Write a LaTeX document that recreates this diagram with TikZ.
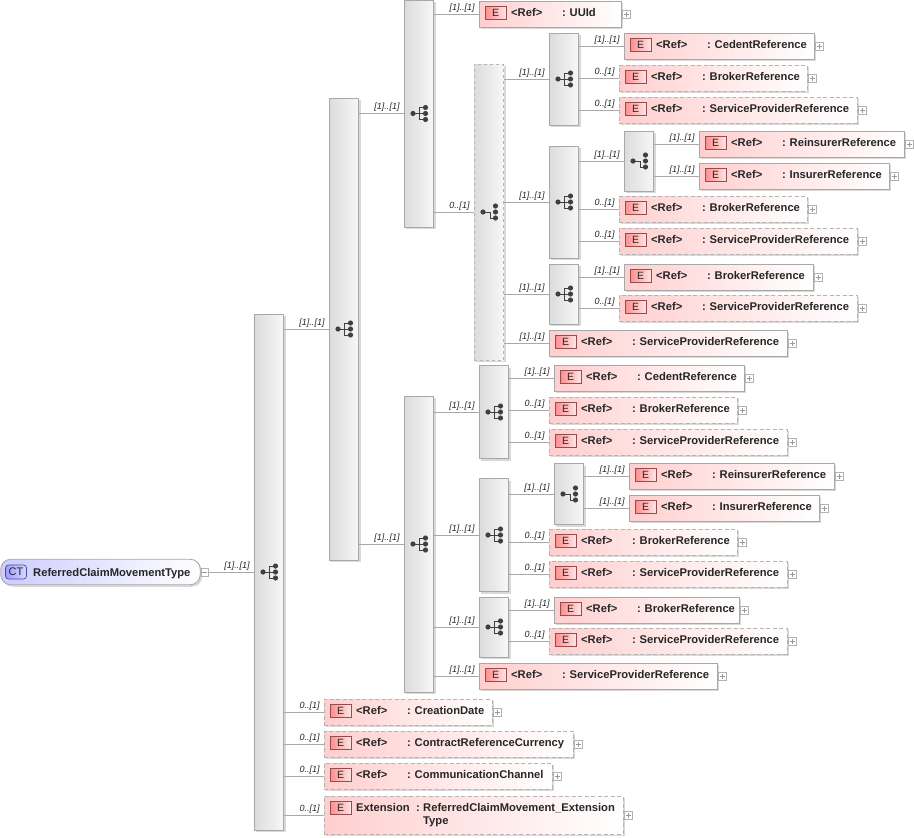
\documentclass[tikz,border=0pt]{standalone}
\usepackage{fontspec}
\setmainfont{Liberation Sans}
\usetikzlibrary{shadows}

\definecolor{boxline}{HTML}{A8A8A8}
\definecolor{dashline}{HTML}{B4B4B4}
\definecolor{conline}{HTML}{A8A8A8}
\definecolor{symdark}{HTML}{404040}

\tikzset{
  softshadow/.style={drop shadow={shadow xshift=2pt,shadow yshift=-2pt,fill=black,opacity=.15}},
  seqbox/.style={draw=boxline, line width=.8pt, minimum width=29.5pt, inner sep=0pt,
    left color=black!14, right color=black!3, softshadow},
  chobox/.style={seqbox, draw=dashline, dashed},
  refbox/.style={draw=boxline, line width=.8pt, anchor=north west, minimum height=25.5pt, inner sep=0pt,
    left color=red!19, right color=white, softshadow},
  refopt/.style={refbox, draw=dashline, dash pattern=on 4pt off 2.5pt},
  eicon/.style={draw=black!60!red!70, line width=.7pt, minimum width=21pt, minimum height=13pt, inner sep=0pt,
    left color=red!45, right color=red!10, text=black!85, font=\fontsize{10.5}{10}\selectfont},
  reftext/.style={anchor=base west, inner sep=0pt, text=black!85, font=\fontsize{11.2}{12}\selectfont\bfseries},
  plusbox/.style={draw=black!30, line width=.5pt, fill=white, minimum size=7.5pt, inner sep=0pt},
  plusline/.style={draw=black!40, line width=.5pt},
  conn/.style={draw=conline, line width=.7pt},
  multi/.style={anchor=south east, inner sep=0pt, xshift=-4pt, yshift=1.5pt, text=black!85,
    font=\fontsize{9}{9}\selectfont\itshape},
  seqsym/.pic={
    \draw[symdark, line width=.9pt] (-6,0) -- (6,0) (0,-6) -- (0,6) (0,-6) -- (6,-6) (0,6) -- (6,6);
    \foreach \py in {-6,0,6} \fill[symdark] (6.5,\py) circle (2.6pt);
    \fill[symdark] (-6,0) circle (2.6pt);
  },
  chosym/.pic={
    \draw[symdark, line width=.9pt] (-6,0) -- (1,0) -- (1,6) -- (6,6);
    \foreach \py in {-6,0,6} \fill[symdark] (6.5,\py) circle (2.6pt);
    \fill[symdark] (-6,0) circle (2.6pt);
  },
}

% offsets of colon and name inside an element box
\def\colonx{83}
\def\namex{90.5}

% element box with icon, texts and expand button
\newcommand{\refel}[6][<Ref>]{%
  \node[#5, minimum width=#4pt-.5pt] (#2) at (#3) {};
  \node[eicon, shift={(16.5,12)}] (#2e) at (#2.north west) {E};
  \node[reftext, shift={(32,15.5)}] (#2t) at (#2.north west) {#1};
  \node[reftext, shift={(\colonx,15.5)}] (#2c) at (#2.north west) {:};
  \node[reftext, shift={(\namex,15.5)}] (#2n) at (#2.north west) {#6};
  \node[plusbox, shift={(5,0)}] (#2p) at (#2.east) {};
  \draw[plusline] ([xshift=-2.5pt]#2p.center) -- ([xshift=2.5pt]#2p.center);
  \draw[plusline] ([yshift=-2.5pt]#2p.center) -- ([yshift=2.5pt]#2p.center);
}
% connector from a group to its child
\newcommand{\conn}[3]{\draw[conn] (#1.east |- #2.west) -- (#2.west) node[multi] {#3};}

\begin{document}
\begin{tikzpicture}[x=1pt,y=-1pt]
  \useasboundingbox (0,0) rectangle (914,838);

  % Root type
  \node[draw=black!35, line width=.8pt, rounded corners=10pt, minimum width=199.5pt, minimum height=25.5pt,
    inner sep=0pt, left color=blue!20, right color=white, softshadow] (root) at (100.5,572) {};
  \node[draw=black!60!blue!70, line width=.7pt, rounded corners=3pt, minimum width=21pt, minimum height=14pt,
    inner sep=0pt, left color=blue!38, right color=blue!15, font=\fontsize{11}{10}\selectfont, text=black!85] (rooti) at (16,572) {CT};
  \node[reftext] (roott) at (33,576) {ReferredClaimMovementType};
  \node[plusbox] (rootm) at (204.5,572) {};
  \draw[plusline] ([xshift=-2.5pt]rootm.center) -- ([xshift=2.5pt]rootm.center);

  % Group boxes
  \node[seqbox, minimum height=516pt] (main) at (269,572) {};
  \node[seqbox, minimum height=462pt] (outer) at (344,329) {};
  \node[seqbox, minimum height=227pt] (upper) at (419,113.5) {};
  \node[seqbox, minimum height=296pt] (lower) at (419,544) {};
  \node[chobox, minimum height=296pt] (upchoice) at (489,212) {};
  \node[seqbox, minimum height=92pt] (upa) at (564,79) {};
  \node[seqbox, minimum height=112pt] (upb) at (564,202) {};
  \node[chobox, draw=boxline, solid, minimum height=60pt] (upbb) at (639,161) {};
  \node[seqbox, minimum height=60pt] (upc) at (564,294) {};
  \node[seqbox, minimum height=93pt] (lowd) at (494,412) {};
  \node[seqbox, minimum height=113pt] (lowe) at (494,535) {};
  \node[chobox, draw=boxline, solid, minimum height=61pt] (lowee) at (569,494) {};
  \node[seqbox, minimum height=60pt] (lowf) at (494,627) {};

  % Group symbols
  \foreach \grp in {main,outer,upper,lower,upa,upb,upc,lowd,lowe,lowf} \pic at (\grp) {seqsym};
  \foreach \grp in {upchoice,upbb,lowee} \pic at (\grp) {chosym};

  % Upper branch
  \refel{uuid}{479,1}{142}{refbox}{UUId}
  \refel{cedA}{624,33}{190}{refbox}{CedentReference}
  \refel{brokA}{619,65}{188}{refopt}{BrokerReference}
  \refel{servA}{619,97}{238}{refopt}{ServiceProviderReference}
  \refel{reinB}{699,131}{205}{refbox}{ReinsurerReference}
  \refel{insB}{699,163}{190}{refbox}{InsurerReference}
  \refel{brokB}{619,196}{188}{refopt}{BrokerReference}
  \refel{servB}{619,228}{238}{refopt}{ServiceProviderReference}
  \refel{brokC}{624,264}{189}{refbox}{BrokerReference}
  \refel{servC}{619,295}{238}{refopt}{ServiceProviderReference}
  \refel{servU}{549,330}{238}{refbox}{ServiceProviderReference}

  % Lower branch
  \refel{cedD}{554,365}{190}{refbox}{CedentReference}
  \refel{brokD}{549,397}{188}{refopt}{BrokerReference}
  \refel{servD}{549,429}{238}{refopt}{ServiceProviderReference}
  \refel{reinE}{629,463}{205}{refbox}{ReinsurerReference}
  \refel{insE}{629,495}{190}{refbox}{InsurerReference}
  \refel{brokE}{549,529}{188}{refopt}{BrokerReference}
  \refel{servE}{549,561}{238}{refopt}{ServiceProviderReference}
  \refel{brokF}{554,597}{185}{refbox}{BrokerReference}
  \refel{servF}{549,628}{238}{refopt}{ServiceProviderReference}
  \refel{servL}{479,663}{238}{refbox}{ServiceProviderReference}

  % Bottom elements
  \refel{created}{324,699}{168}{refopt}{CreationDate}
  \refel{currency}{324,731}{249}{refopt}{ContractReferenceCurrency}
  \refel{channel}{324,763}{228}{refopt}{CommunicationChannel}
  \def\colonx{92}\def\namex{99}
  \refel[Extension]{extens}{324,796}{299}{refopt, minimum height=38pt}{ReferredClaimMovement\_Extension}
  \node[reftext, shift={(99,28.5)}] (extenst) at (extens.north west) {Type};

  % Connectors
  \draw[conn] (rootm.east) -- (main.west) node[multi] {[1]..[1]};
  \conn{main}{outer}{[1]..[1]}
  \conn{main}{created}{0..[1]}
  \conn{main}{currency}{0..[1]}
  \conn{main}{channel}{0..[1]}
  \conn{main}{extens}{0..[1]}
  \conn{outer}{upper}{[1]..[1]}
  \conn{outer}{lower}{[1]..[1]}
  \conn{upper}{uuid}{[1]..[1]}
  \conn{upper}{upchoice}{0..[1]}
  \conn{upchoice}{upa}{[1]..[1]}
  \conn{upchoice}{upb}{[1]..[1]}
  \conn{upchoice}{upc}{[1]..[1]}
  \conn{upchoice}{servU}{[1]..[1]}
  \conn{upa}{cedA}{[1]..[1]}
  \conn{upa}{brokA}{0..[1]}
  \conn{upa}{servA}{0..[1]}
  \conn{upb}{upbb}{[1]..[1]}
  \conn{upb}{brokB}{0..[1]}
  \conn{upb}{servB}{0..[1]}
  \conn{upbb}{reinB}{[1]..[1]}
  \conn{upbb}{insB}{[1]..[1]}
  \conn{upc}{brokC}{[1]..[1]}
  \conn{upc}{servC}{0..[1]}
  \conn{lower}{lowd}{[1]..[1]}
  \conn{lower}{lowe}{[1]..[1]}
  \conn{lower}{lowf}{[1]..[1]}
  \conn{lower}{servL}{[1]..[1]}
  \conn{lowd}{cedD}{[1]..[1]}
  \conn{lowd}{brokD}{0..[1]}
  \conn{lowd}{servD}{0..[1]}
  \conn{lowe}{lowee}{[1]..[1]}
  \conn{lowe}{brokE}{0..[1]}
  \conn{lowe}{servE}{0..[1]}
  \conn{lowee}{reinE}{[1]..[1]}
  \conn{lowee}{insE}{[1]..[1]}
  \conn{lowf}{brokF}{[1]..[1]}
  \conn{lowf}{servF}{0..[1]}
\end{tikzpicture}
\end{document}
